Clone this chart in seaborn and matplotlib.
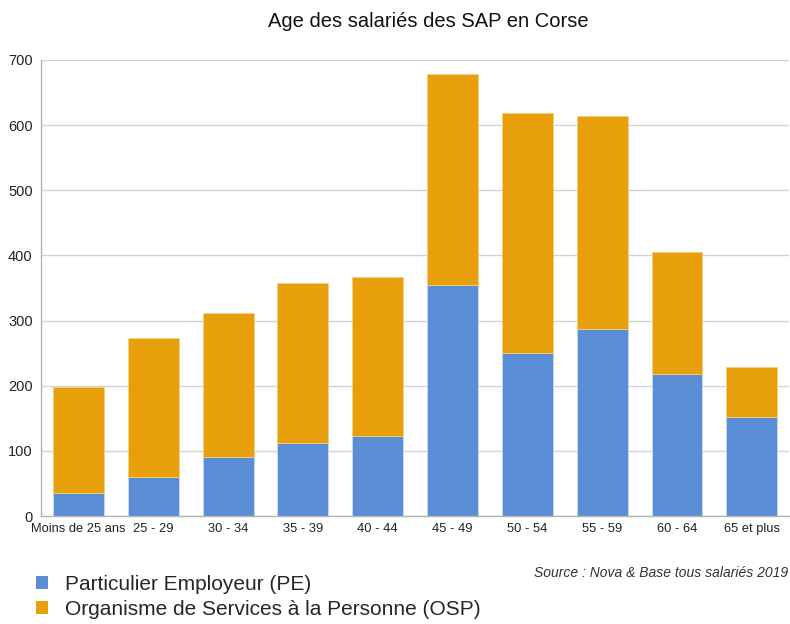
import matplotlib
matplotlib.use('Agg')
import matplotlib.pyplot as plt
import seaborn as sns
import pandas as pd
from matplotlib.patches import Patch

ages = ['Moins de 25 ans', '25 - 29', '30 - 34', '35 - 39', '40 - 44',
        '45 - 49', '50 - 54', '55 - 59', '60 - 64', '65 et plus']
pe = [35, 60, 91, 112, 123, 355, 250, 287, 218, 152]
osp = [163, 213, 221, 246, 244, 323, 369, 327, 187, 77]

blue = '#5b8dd4'
orange = '#e89f0c'

sns.set_style('white')
plt.rcParams['font.family'] = ['Liberation Sans', 'DejaVu Sans']

df = pd.DataFrame({'Age': ages, 'PE': pe, 'OSP': osp})

fig = plt.figure(figsize=(7.9, 6.24), dpi=100)
ax = fig.add_axes([0.052, 0.173, 0.947, 0.731])

sns.barplot(df, x='Age', y='PE', color=blue, width=0.68, saturation=1,
            edgecolor='#c9dbf2', linewidth=0.6, ax=ax)
sns.barplot(df, x='Age', y='OSP', color=orange, width=0.68, saturation=1,
            bottom=df['PE'], edgecolor='#f4cf80', linewidth=0.6, ax=ax)

ax.set_ylim(0, 700)
ax.set_xlim(-0.5, 9.5)
ax.set_yticks(range(0, 701, 100))
ax.yaxis.grid(True, color='#d4d4d4', linewidth=1)
ax.set_axisbelow(True)
ax.set_xlabel('')
ax.set_ylabel('')

for s in ['top', 'right']:
    ax.spines[s].set_visible(False)
for s in ['left', 'bottom']:
    ax.spines[s].set_color('#b3b3b3')
    ax.spines[s].set_linewidth(1)

# ticks between categories like the original
ax.set_xticks([i + 0.5 for i in range(9)], minor=True)
ax.tick_params(axis='x', which='minor', length=4, color='#b3b3b3', width=1)
ax.tick_params(axis='x', which='major', length=0, labelsize=9.3, pad=5)
ax.tick_params(axis='y', length=4, color='#b3b3b3', labelsize=10.5, pad=2)
for lab in ax.get_xticklabels() + ax.get_yticklabels():
    lab.set_color('#222222')

fig.text(0.542, 0.965, 'Age des salariés des SAP en Corse', ha='center', va='center',
         fontsize=14.5, color='#111111')

fig.text(0.997, 0.082, 'Source : Nova & Base tous salariés 2019', ha='right', va='center',
         fontsize=10, style='italic', color='#333333')

handles = [Patch(facecolor=blue, edgecolor='none', label='Particulier Employeur (PE)'),
           Patch(facecolor=orange, edgecolor='none', label='Organisme de Services à la Personne (OSP)')]
fig.legend(handles=handles, loc='upper left', bbox_to_anchor=(0.045, 0.079), frameon=False,
           fontsize=15, handlelength=0.6, handleheight=0.6, handletextpad=0.8,
           labelspacing=0.3, borderaxespad=0, borderpad=0)

fig.savefig('out.png', dpi=100)
